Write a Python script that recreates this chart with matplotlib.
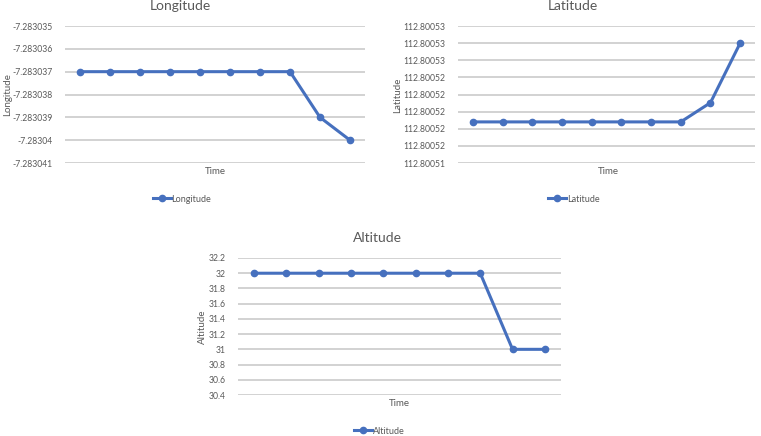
import matplotlib
matplotlib.use("Agg")
import matplotlib.pyplot as plt
import numpy as np

plt.rcParams['font.family'] = ['Lato', 'DejaVu Sans']

time_idx = list(range(1, 11))
longitude = [-7.283037] * 8 + [-7.283039, -7.283040]
latitude = [112.800516] * 8 + [112.8005188, 112.8005275]
altitude = [32] * 8 + [31, 31]

lon_ticks = [-7.283035, -7.283036, -7.283037, -7.283038, -7.283039, -7.28304, -7.283041]
lon_labels = ['-7.283035', '-7.283036', '-7.283037', '-7.283038', '-7.283039', '-7.28304', '-7.283041']
lat_ticks = [112.80051 + 0.0000025 * i for i in range(9)]
lat_labels = ['112.80051', '112.80052', '112.80052', '112.80052', '112.80052',
              '112.80052', '112.80053', '112.80053', '112.80053']
alt_ticks = [30.4, 30.6, 30.8, 31, 31.2, 31.4, 31.6, 31.8, 32, 32.2]
alt_labels = ['30.4', '30.6', '30.8', '31', '31.2', '31.4', '31.6', '31.8', '32', '32.2']

W, H = 761, 436
BLUE = '#4670BE'
GRID = '#CFCFCF'
TXT = '#595959'

fig = plt.figure(figsize=(W / 100, H / 100), dpi=100)


def px(x, y):
    return x / W, 1 - y / H


def make(x0, x1, y0, y1, values, ticks, labels, name, title_xy, ylab_xy, time_xy, leg_xy):
    ax = fig.add_axes([x0 / W, 1 - y1 / H, (x1 - x0) / W, (y1 - y0) / H])
    line, = ax.plot(time_idx, values, color=BLUE, lw=2.2, marker='o', ms=4.5, label=name)
    ax.set_xlim(0.5, 10.5)
    ax.set_ylim(min(ticks), max(ticks))
    ax.set_yticks(ticks)
    ax.set_yticklabels(labels, fontsize=6.2, color=TXT)
    ax.set_xticks([])
    ax.tick_params(axis='y', length=0, pad=9)
    for s in ax.spines.values():
        s.set_visible(False)
    ax.yaxis.grid(True, color=GRID, lw=1.3)
    ax.set_axisbelow(True)
    line.set_clip_on(False)
    fig.text(*px(*title_xy), name, ha='center', va='center', fontsize=10, color=TXT)
    fig.text(*px(*ylab_xy), name, ha='center', va='center', rotation=90, fontsize=7, color=TXT)
    fig.text(*px(*time_xy), 'Time', ha='center', va='center', fontsize=7, color=TXT)
    fig.legend(handles=[line], loc='center', bbox_to_anchor=px(*leg_xy), frameon=False,
               fontsize=6.5, handlelength=2.0, handletextpad=0.1, labelcolor=TXT)
    return ax


make(65, 365, 26, 163, longitude, lon_ticks, lon_labels, 'Longitude',
     (180, 6), (8, 95), (215, 171), (182, 199))
make(458, 755, 26, 163, latitude, lat_ticks, lat_labels, 'Latitude',
     (573, 6), (398, 95), (608, 171), (574, 199))
make(238, 561, 258, 395, altitude, alt_ticks, alt_labels, 'Altitude',
     (377, 238), (202, 327), (399, 403), (379, 431))

fig.savefig('out.png', dpi=100)
